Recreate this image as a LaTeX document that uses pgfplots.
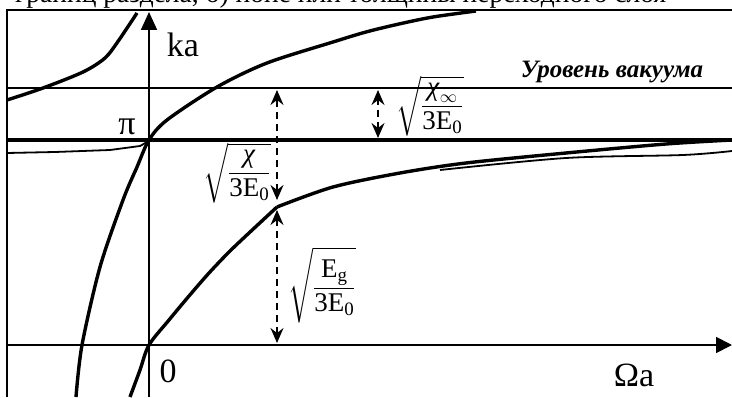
\documentclass[border=0pt]{standalone}
\usepackage{amsmath}
\usepackage{fontspec}
\setmainfont{Liberation Serif}
\usepackage{pgfplots}
\pgfplotsset{compat=1.18}
\usetikzlibrary{arrows.meta}

% upper branch passing through (0, pi)
\pgfplotstableread{
X Y
-73 -52
-67 0
-49 78
-26 145
-12 178
0 205
18 225
68 258
118 282
184 303
217 313
250 321
284 328
327 334
}\branchA

% left branch near the top
\pgfplotstableread{
X Y
-142 245
-106 257
-66 273
-44 287
-30 305
-12 332
}\branchB

% lower branch through the origin, up to the kink
\pgfplotstableread{
X Y
-19 -52
-9 -25
0 0
20 25
40 49
60 72
80 93
100 112
128 138
}\branchCl

% lower branch beyond the kink, approaching the pi level
\pgfplotstableread{
X Y
128 138
184 158
251 172
317 182
417 192
517 201
583 205
}\branchCr

\begin{document}
\begin{tikzpicture}
\useasboundingbox (0,0) rectangle (732pt,397pt);
\begin{axis}[
  at={(0,0)}, anchor=south west,
  scale only axis, width=732pt, height=397pt,
  xmin=-149, xmax=583, ymin=-52, ymax=345,
  hide axis, clip=false]

  % frame
  \draw[line width=1.8pt] (axis cs:-142,-52) -- (axis cs:-142,335) -- (axis cs:583,335);
  % caption line, mostly outside the page
  \node[anchor=base west, font=\fontsize{27.5}{30}\selectfont, inner sep=0pt]
    at (axis cs:-134,342) {границ раздела, б) ионе или толщины переходного слоя};

  % axes
  \draw[line width=1.8pt, -{Triangle[length=18pt,width=16pt]}] (axis cs:0,-52) -- (axis cs:0,333);
  \draw[line width=1.8pt, -{Triangle[length=16pt,width=16pt]}] (axis cs:-142,0) -- (axis cs:583,0);

  % pi level and vacuum level
  \draw[line width=4pt] (axis cs:-142,205) -- (axis cs:583,205);
  \draw[line width=1.8pt] (axis cs:-142,257) -- (axis cs:583,257);

  % branches
  \addplot[smooth, line width=3.4pt] table[x=X,y=Y] {\branchA};
  \addplot[smooth, line width=3.4pt] table[x=X,y=Y] {\branchB};
  \addplot[smooth, line width=3.4pt] table[x=X,y=Y] {\branchCl};
  \addplot[smooth, line width=3.4pt] table[x=X,y=Y] {\branchCr};
  \addplot[smooth, line width=1.8pt] coordinates {(291,175) (417,187) (534,190) (583,194)};
  \addplot[line width=1.8pt] coordinates {(-142,192) (-94,193) (-39,195) (-9,199) (0,204)};

  % gap arrows
  \tikzset{gap/.style={line width=1.6pt, dash pattern=on 7pt off 5pt,
    {Stealth[length=15pt,width=13pt,inset=5pt]}-{Stealth[length=15pt,width=13pt,inset=5pt]}}}
  \draw[gap] (axis cs:128,145) -- (axis cs:128,255);
  \draw[gap] (axis cs:128,2) -- (axis cs:128,135);
  \draw[gap] (axis cs:229,207) -- (axis cs:229,255);

  % labels
  \node[font=\fontsize{34}{36}\selectfont] at (axis cs:34,300) {ka};
  \node[font=\fontsize{34}{36}\selectfont] at (axis cs:-22,218) {π};
  \node[font=\fontsize{34}{36}\selectfont] at (axis cs:19,-26) {0};
  \node[font=\fontsize{34}{36}\selectfont] at (axis cs:485,-30) {Ωa};
  \node[font=\fontsize{25}{27}\selectfont\bfseries\itshape] at (axis cs:463,273) {Уровень вакуума};
  \node[font=\fontsize{27}{29}\selectfont] at (axis cs:281,239)
    {$\displaystyle\sqrt{\frac{\text{\textit{χ}}_{\infty}}{\text{3E}_{\text{0}}}}$};
  \node[font=\fontsize{27}{29}\selectfont] at (axis cs:88,172)
    {$\displaystyle\sqrt{\frac{\text{\textit{χ}}}{\text{3E}_{\text{0}}}}$};
  \node[font=\fontsize{27}{29}\selectfont] at (axis cs:173,60)
    {$\displaystyle\sqrt{\frac{\text{E}_{\text{g}}}{\text{3E}_{\text{0}}}}$};
\end{axis}
\end{tikzpicture}
\end{document}
